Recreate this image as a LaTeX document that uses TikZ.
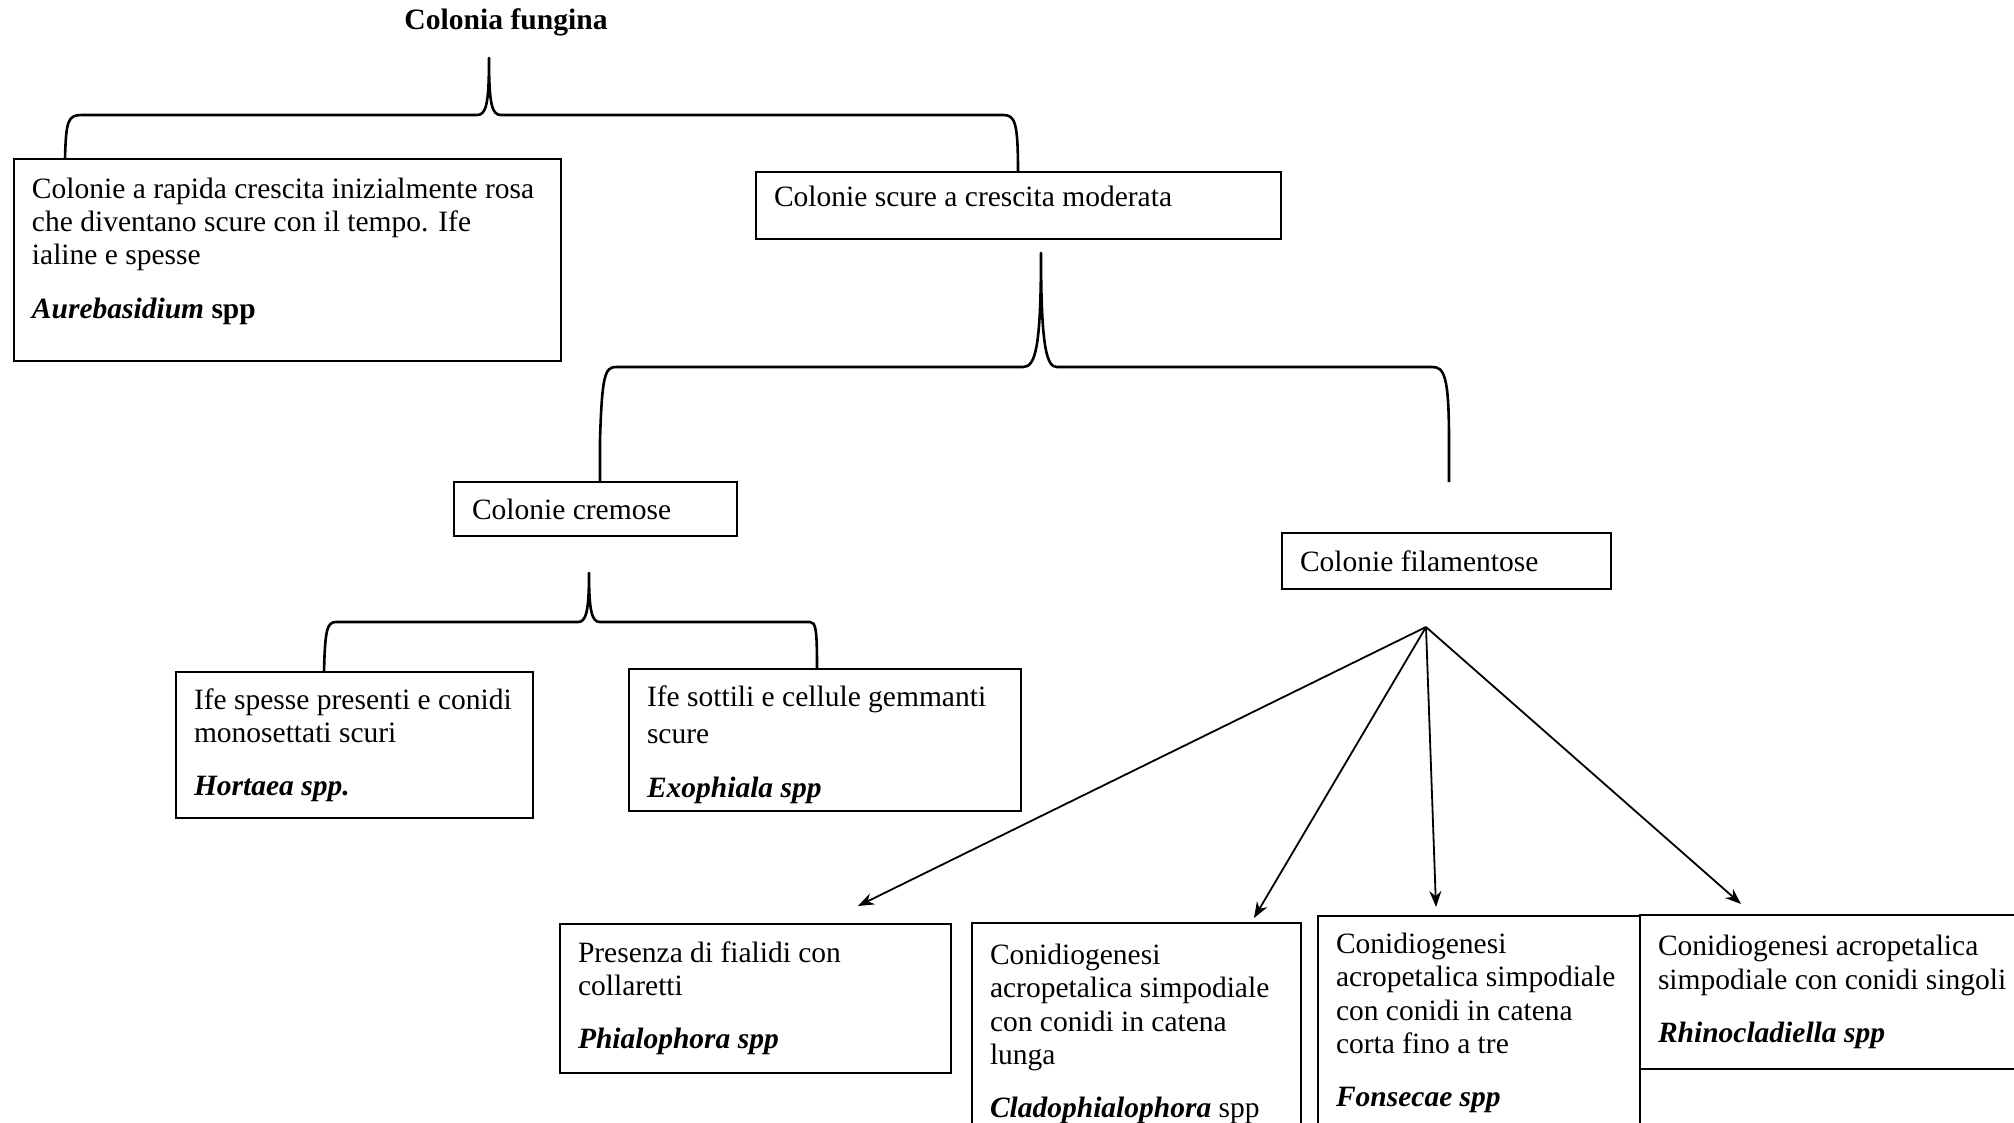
\documentclass[tikz,border=0pt]{standalone}
\usepackage{fontspec}
\setmainfont{Liberation Serif}
\usetikzlibrary{arrows.meta}

\tikzset{
	box/.style={draw, line width=1pt, anchor=north west, align=flush left, outer sep=0pt, inner xsep=9pt, inner ysep=0pt, text width=#1},
	brace/.style={line width=1.3pt, line join=round},
	arr/.style={line width=0.9pt, -{Stealth[length=8pt,width=6pt]}}
}

\begin{document}
\begin{tikzpicture}[x=0.5pt, y=-0.5pt, font=\fontsize{14.75pt}{16.6pt}\selectfont]

	\useasboundingbox (0,0) rectangle (2014,1123);

	\node[font=\fontsize{14.8pt}{16.5pt}\selectfont\bfseries] (fungina) at (506,22) {Colonia fungina};

	\node[box=255.5pt, minimum height=101pt] (aureo) at (14,159) {Colonie a rapida crescita inizialmente rosa\\ che diventano scure con il tempo. Ife\\ ialine e spesse\\[10pt] \textbf{\textit{Aurebasidium} spp}\rule[-12pt]{0pt}{0pt}};
	\node[box=244.5pt, minimum height=33.5pt] (scure) at (756,172) {Colonie scure a crescita moderata\rule[-9pt]{0pt}{0pt}};
	\node[box=123.5pt, minimum height=27pt] (cremose) at (454,482) {Colonie cremose};
	\node[box=146.5pt, minimum height=28pt] (filam) at (1282,533) {Colonie filamentose};

	\node[box=160.5pt, minimum height=73pt] (hortaea) at (176,672) {Ife spesse presenti e conidi\\ monosettati scuri\\[10pt] \textbf{\textit{Hortaea spp.}}};
	\node[box=178pt, minimum height=71pt] (exoph) at (629,669) {\rule{0pt}{15pt}Ife sottili e cellule gemmanti\\[2pt] scure\\[10pt] \textbf{\textit{Exophiala spp}}};

	\node[box=177.5pt, minimum height=74.5pt] (phialo) at (560,924) {Presenza di fialidi con\\ collaretti\\[10pt] \textbf{\textit{Phialophora spp}}};
	\node[box=146.5pt, minimum height=111pt] (clado) at (972,923) {Conidiogenesi\\ acropetalica simpodiale\\ con conidi in catena\\ lunga\\[10pt] \textbf{\textit{Cladophialophora}} spp};
	\node[box=143pt, minimum height=107pt] (fonsec) at (1318,916) {Conidiogenesi\\ acropetalica simpodiale\\ con conidi in catena\\ corta fino a tre\\[10pt] \textbf{\textit{Fonsecae spp}}};
	\node[box=192pt, minimum height=77pt] (rhino) at (1640,915) {Conidiogenesi acropetalica\\ simpodiale con conidi singoli\\[10pt] \textbf{\textit{Rhinocladiella spp}}};

	\coordinate (tipA) at (489,58);
	\coordinate (tipB) at (1041,253);
	\coordinate (tipC) at (589,573);
	\coordinate (braceEnd) at (1449,482);

	\draw[brace] (65,0 |- aureo.north) .. controls (66,120) and (68,115) .. (82,115) -- (477,115) .. controls (486,115) and (489,105) .. (tipA) .. controls (489,105) and (492,115) .. (501,115) -- (1003,115) .. controls (1015,115) and (1018,122) .. (1018,0 |- scure.north);
	\draw[brace] (600,0 |- cremose.north) -- (600,440) .. controls (602,375) and (605,367) .. (616,367) -- (1023,367) .. controls (1035,367) and (1041,350) .. (tipB) .. controls (1041,350) and (1047,367) .. (1057,367) -- (1432,367) .. controls (1444,367) and (1449,375) .. (1449,440) -- (braceEnd);
	\draw[brace] (324,0 |- hortaea.north) .. controls (325,630) and (327,622) .. (336,622) -- (578,622) .. controls (586,622) and (589,612) .. (tipC) .. controls (589,612) and (592,622) .. (600,622) -- (810,622) .. controls (816,622) and (817,630) .. (817,0 |- exoph.north);

	\coordinate (fan) at (1426,627);
	\coordinate (toPhialo) at (858,906);
	\coordinate (toClado) at (1254,918);
	\coordinate (toFonsec) at (1436,907);
	\coordinate (toRhino) at (1741,904);

	\draw[arr] (fan) -- (toPhialo);
	\draw[arr] (fan) -- (toClado);
	\draw[arr] (fan) -- (toFonsec);
	\draw[arr] (fan) -- (toRhino);

\end{tikzpicture}
\end{document}
